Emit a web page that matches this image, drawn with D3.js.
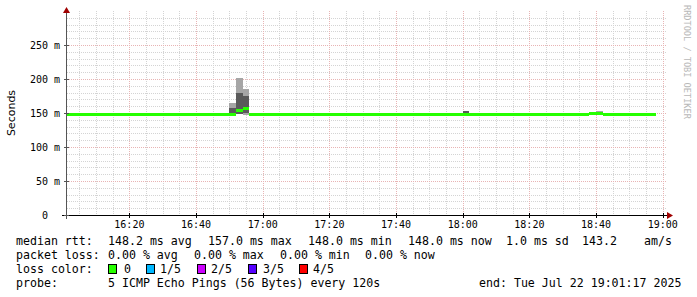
<!DOCTYPE html>
<html><head><meta charset="utf-8">
<script src="https://cdn.jsdelivr.net/npm/d3@7/dist/d3.min.js"></script>
<style>
html,body{margin:0;padding:0;background:#fff;}
svg{display:block;}
text{font-family:"DejaVu Sans Mono",monospace;fill:#000;}
</style></head>
<body><svg id="c" width="697" height="297"></svg>
<script>
// ---- data ----
const stepStart = [2025, 6, 22, 16, 0, 0];   // first RRD step (local time)
const stepSeconds = 120;
// median RTT (ms) for each 2-minute step, 16:00 .. 18:56
const medianRtt = [
  148,148,148,148,148,148,148,148,148,148, // 16:00-16:18
  148,148,148,148,148,148,148,148,148,148, // 16:20-16:38
  148,148,148,148,148,148,153,157,148,148, // 16:40-16:58
  148,148,148,148,148,148,148,148,148,148, // 17:00-17:18
  148,148,148,148,148,148,148,148,148,148, // 17:20-17:38
  148,148,148,148,148,148,148,148,148,148, // 17:40-17:58
  148,148,148,148,148,148,148,148,148,148, // 18:00-18:18
  148,148,148,148,148,148,148,148,148,149, // 18:20-18:38
  149,148,148,148,148,148,148,148,148      // 18:40-18:56
];
// loss per step (0 everywhere)
const lossIndex = medianRtt.map(() => 0);
// smoke: steps where the 5 pings spread out (sorted ping RTTs, ms)
const smokeSteps = [25, 26, 27, 60, 80];
const smokePings = [
  [148, 148, 148, 158, 165],
  [148, 149, 153, 179, 202],
  [147, 150, 157, 175, 185],
  [148, 148, 150, 153, 153],
  [148, 148, 149, 149, 153]
];
const yTicks = [0, 50, 100, 150, 200, 250];
const yTickLabels = ["0", "50 m", "100 m", "150 m", "200 m", "250 m"];
const lossLabels = ["0", "1/5", "2/5", "3/5", "4/5"];
const lossColors = ["#26ff00", "#00b8ff", "#cc00ff", "#5500ff", "#ff0000"];
const legendLine1 = [["median rtt:",16],["148.2 ms avg",108],["157.0 ms max",208],["148.0 ms min",308],["148.0 ms now",408],["1.0 ms sd",506],["143.2",582],["am/s",644]];
const legendLine2 = [["packet loss:",16],["0.00 % avg",108],["0.00 % max",194],["0.00 % min",280],["0.00 % now",365]];
const legendLine4 = [["probe:",16],["5 ICMP Echo Pings (56 Bytes) every 120s",108],["end: Tue Jul 22 19:01:17 2025",479]];
const lossLegendX = [[108,124],[146,160],[197,211],[248,263],[299,313]];

// ---- scales ----
const start = new Date(2025, 6, 22, 16, 1, 17);
const end = new Date(2025, 6, 22, 19, 1, 17);
const X0 = 67, X1 = 667, Y0 = 215, YT = 11;
const x = d3.scaleTime().domain([start, end]).range([X0, X1]);
const y = d3.scaleLinear().domain([0, 300]).range([Y0, YT]);
const t0 = new Date(...stepStart);
const stepTime = i => new Date(t0.getTime() + i * stepSeconds * 1000);

const svg = d3.select("#c");
svg.append("defs").append("clipPath").attr("id","clip")
  .append("rect").attr("x",X0).attr("y",YT).attr("width",X1-X0).attr("height",Y0-YT);

// ---- grid ----
const grid = svg.append("g").attr("shape-rendering","crispEdges");
const minorY = d3.range(0, 300, 10).filter(v => v % 50 !== 0);
grid.selectAll(".hmin").data(minorY).enter().append("line")
  .attr("x1",X0).attr("x2",X1).attr("y1",d=>Math.round(y(d))+0.5).attr("y2",d=>Math.round(y(d))+0.5)
  .attr("stroke","#d4d4d4").attr("stroke-dasharray","1,1");
const minorX = d3.timeMinute.every(5).range(start, end).filter(d => d.getMinutes() % 20 !== 0);
grid.selectAll(".vmin").data(minorX).enter().append("line")
  .attr("y1",YT).attr("y2",Y0).attr("x1",d=>Math.round(x(d))+0.5).attr("x2",d=>Math.round(x(d))+0.5)
  .attr("stroke","#d4d4d4").attr("stroke-dasharray","1,1");
const majorX = d3.timeMinute.every(20).range(start, end);
grid.selectAll(".vmaj").data(majorX).enter().append("line")
  .attr("y1",YT).attr("y2",Y0).attr("x1",d=>Math.round(x(d))+0.5).attr("x2",d=>Math.round(x(d))+0.5)
  .attr("stroke","#e8b4b4").attr("stroke-dasharray","1,1");
grid.selectAll(".hmaj").data(yTicks.filter(v=>v>0)).enter().append("line")
  .attr("x1",X0).attr("x2",X1).attr("y1",d=>Math.round(y(d))+0.5).attr("y2",d=>Math.round(y(d))+0.5)
  .attr("stroke","#e8b4b4").attr("stroke-dasharray","1,1");

// ---- smoke ----
const plot = svg.append("g").attr("clip-path","url(#clip)").attr("shape-rendering","crispEdges");
const smoke = smokeSteps.map((s,i)=>({s, p:smokePings[i]}));
plot.selectAll(".s1").data(smoke).enter().append("rect")
  .attr("x",d=>x(stepTime(d.s))).attr("width",d=>x(stepTime(d.s+1))-x(stepTime(d.s)))
  .attr("y",d=>y(d.p[4])).attr("height",d=>y(d.p[0])-y(d.p[4])).attr("fill","#a6a6a6");
plot.selectAll(".s2").data(smoke).enter().append("rect")
  .attr("x",d=>x(stepTime(d.s))).attr("width",d=>x(stepTime(d.s+1))-x(stepTime(d.s)))
  .attr("y",d=>y(d.p[3])).attr("height",d=>y(d.p[1])-y(d.p[3])).attr("fill","#5a5a5a");

// ---- median ----
plot.selectAll(".med").data(medianRtt).enter().append("rect")
  .attr("x",(d,i)=>x(stepTime(i))).attr("width",(d,i)=>x(stepTime(i+1))-x(stepTime(i)))
  .attr("y",d=>y(d)-1.6).attr("height",3).attr("fill",(d,i)=>lossColors[lossIndex[i]]);

// ---- axes ----
const ax = svg.append("g").attr("shape-rendering","crispEdges");
ax.append("line").attr("x1",62).attr("x2",668).attr("y1",Y0+0.5).attr("y2",Y0+0.5).attr("stroke","#000");
ax.append("line").attr("x1",X0-0.5).attr("x2",X0-0.5).attr("y1",Y0+4).attr("y2",9).attr("stroke","#555");
ax.selectAll(".xt").data(majorX).enter().append("line")
  .attr("x1",d=>Math.round(x(d))+0.5).attr("x2",d=>Math.round(x(d))+0.5).attr("y1",Y0-2).attr("y2",Y0+3).attr("stroke","#000");
ax.selectAll(".yt").data(yTicks).enter().append("line")
  .attr("x1",X0-3).attr("x2",X0+2).attr("y1",d=>Math.round(y(d))+0.5).attr("y2",d=>Math.round(y(d))+0.5).attr("stroke","#555");
svg.append("path").attr("d",`M${X1},${Y0-3} L${X1+6},${Y0+0.5} L${X1},${Y0+4} Z`).attr("fill","#a00000");
svg.append("path").attr("d",`M${X0-4},${13} L${X0-0.5},${7} L${X0+3},${13} Z`).attr("fill","#a00000");

// tick labels
svg.selectAll(".xl").data(majorX).enter().append("text")
  .attr("x",d=>x(d)).attr("y",224).attr("dy","0.35em").attr("text-anchor","middle")
  .style("font-size","10px").text(d3.timeFormat("%H:%M"));
svg.selectAll(".yl").data(yTicks).enter().append("text")
  .attr("x",(d,i)=> i===0 ? 48 : 60).attr("y",d=>y(d)).attr("dy","0.35em").attr("text-anchor","end")
  .style("font-size","10px").text((d,i)=>yTickLabels[i]);

// y title
svg.append("text").attr("transform","translate(11,113) rotate(-90)").attr("text-anchor","middle")
  .attr("dy","0.35em").style("font-family","'DejaVu Sans',sans-serif").style("font-size","11px").text("Seconds");
// watermark
svg.append("text").attr("transform","translate(687,5) rotate(90)").attr("dy","0.35em")
  .style("font-size","8.6px").style("fill","#b8b8b8").text("RRDTOOL / TOBI OETIKER");

// ---- legend ----
const leg = svg.append("g").style("font-size","11.6px");
function line(items, yc){ leg.selectAll(null).data(items).enter().append("text")
  .attr("x",d=>d[1]).attr("y",yc).attr("dy","0.35em").attr("xml:space","preserve").text(d=>d[0]); }
line(legendLine1, 241);
line(legendLine2, 255);
line([["loss color:",16]], 269);
leg.selectAll(".lb").data(lossLabels).enter().append("rect")
  .attr("x",(d,i)=>lossLegendX[i][0]+0.5).attr("y",264.5).attr("width",8).attr("height",9)
  .attr("fill",(d,i)=>lossColors[i]).attr("stroke","#000").attr("shape-rendering","crispEdges");
leg.selectAll(".lt").data(lossLabels).enter().append("text")
  .attr("x",(d,i)=>lossLegendX[i][1]).attr("y",269).attr("dy","0.35em").text(d=>d);
line(legendLine4, 283);
</script></body></html>
